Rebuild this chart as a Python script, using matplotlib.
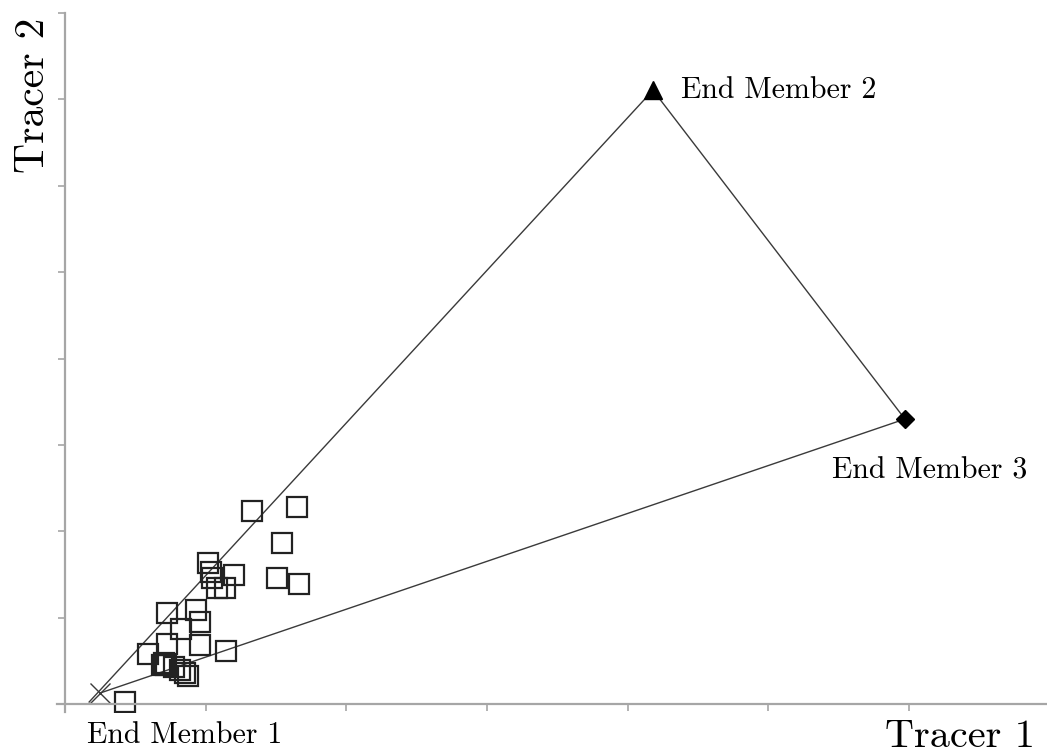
import matplotlib
matplotlib.use("Agg")
import matplotlib.pyplot as plt
import numpy as np

# end members (tracer 1, tracer 2)
em_names = ["End Member 1", "End Member 2", "End Member 3"]
em_x = [0.249, 4.179, 5.970]
em_y = [0.127, 7.106, 3.299]

# mixing lines drawn from the end members
line_x = [0.171, 4.179, 5.970, 0.249]
line_y = [0.023, 7.106, 3.299, 0.127]

# samples
sample_x = [1.327, 1.652, 1.544, 1.018, 1.201, 1.046, 1.038, 1.078, 1.137,
            1.508, 1.665, 0.723, 0.931, 0.959, 0.822, 0.727, 0.959, 1.142,
            0.592, 0.687, 0.718, 0.700, 0.775, 0.817, 0.853, 0.874, 0.426]
sample_y = [2.234, 2.280, 1.867, 1.638, 1.490, 1.455, 1.528, 1.339, 1.339,
            1.455, 1.392, 1.050, 1.088, 0.953, 0.865, 0.694, 0.683, 0.617,
            0.579, 0.451, 0.451, 0.470, 0.432, 0.394, 0.355, 0.324, 0.020]

x_ticks = [0, 1, 2, 3, 4, 5, 6]
y_ticks = [0, 1, 2, 3, 4, 5, 6, 7, 8]

serif = "cmr10"
gray = "#a6a6a6"

fig = plt.figure(figsize=(10.47, 7.56), dpi=100)
ax = fig.add_axes([0.0541, 0.0585, 0.9459, 0.9243])

ax.plot(line_x[:2], line_y[:2], color="#3a3a3a", lw=1.0)
ax.plot(line_x[1:3], line_y[1:3], color="#3a3a3a", lw=1.0)
ax.plot([line_x[3], line_x[2]], [line_y[3], line_y[2]], color="#3a3a3a", lw=1.0)

ax.plot(sample_x, sample_y, ls="none", marker="s", ms=14, mfc="none",
        mec="#222222", mew=1.6)

ax.plot(em_x[0], em_y[0], marker="x", ms=15, color="#3a3a3a", mew=1.0)
ax.plot(em_x[1], em_y[1], marker="^", ms=13, color="black")
ax.plot(em_x[2], em_y[2], marker="D", ms=9, color="black")

ax.text(em_x[0] + 0.60, em_y[0] - 0.33, em_names[0], family=serif,
        fontsize=21.5, ha="center", va="top")
ax.text(em_x[1] + 0.2, em_y[1], em_names[1], family=serif,
        fontsize=21.5, ha="left", va="center")
ax.text(em_x[2] - 0.52, em_y[2] - 0.6, em_names[2], family=serif,
        fontsize=21.5, ha="left", va="center")

ax.set_xlim(-0.06, 6.98)
ax.set_ylim(-0.09, 8)
for side in ["top", "right"]:
    ax.spines[side].set_visible(False)
for side in ["left", "bottom"]:
    ax.spines[side].set_position(("data", 0))
    ax.spines[side].set_color(gray)
    ax.spines[side].set_linewidth(1.6)
ax.spines["left"].set_bounds(-0.09, 8)
ax.spines["bottom"].set_bounds(-0.06, 6.98)
ax.set_xticks(x_ticks)
ax.set_yticks(y_ticks)
ax.tick_params(direction="out", length=5, width=1.2, color=gray,
               labelbottom=False, labelleft=False)

fig.text(0.0315, 0.874, "Tracer 2", family=serif, fontsize=30,
         rotation=90, ha="center", va="center")
fig.text(0.917, 0.025, "Tracer 1", family=serif, fontsize=29,
         ha="center", va="center")

fig.savefig("out.png", dpi=100)
